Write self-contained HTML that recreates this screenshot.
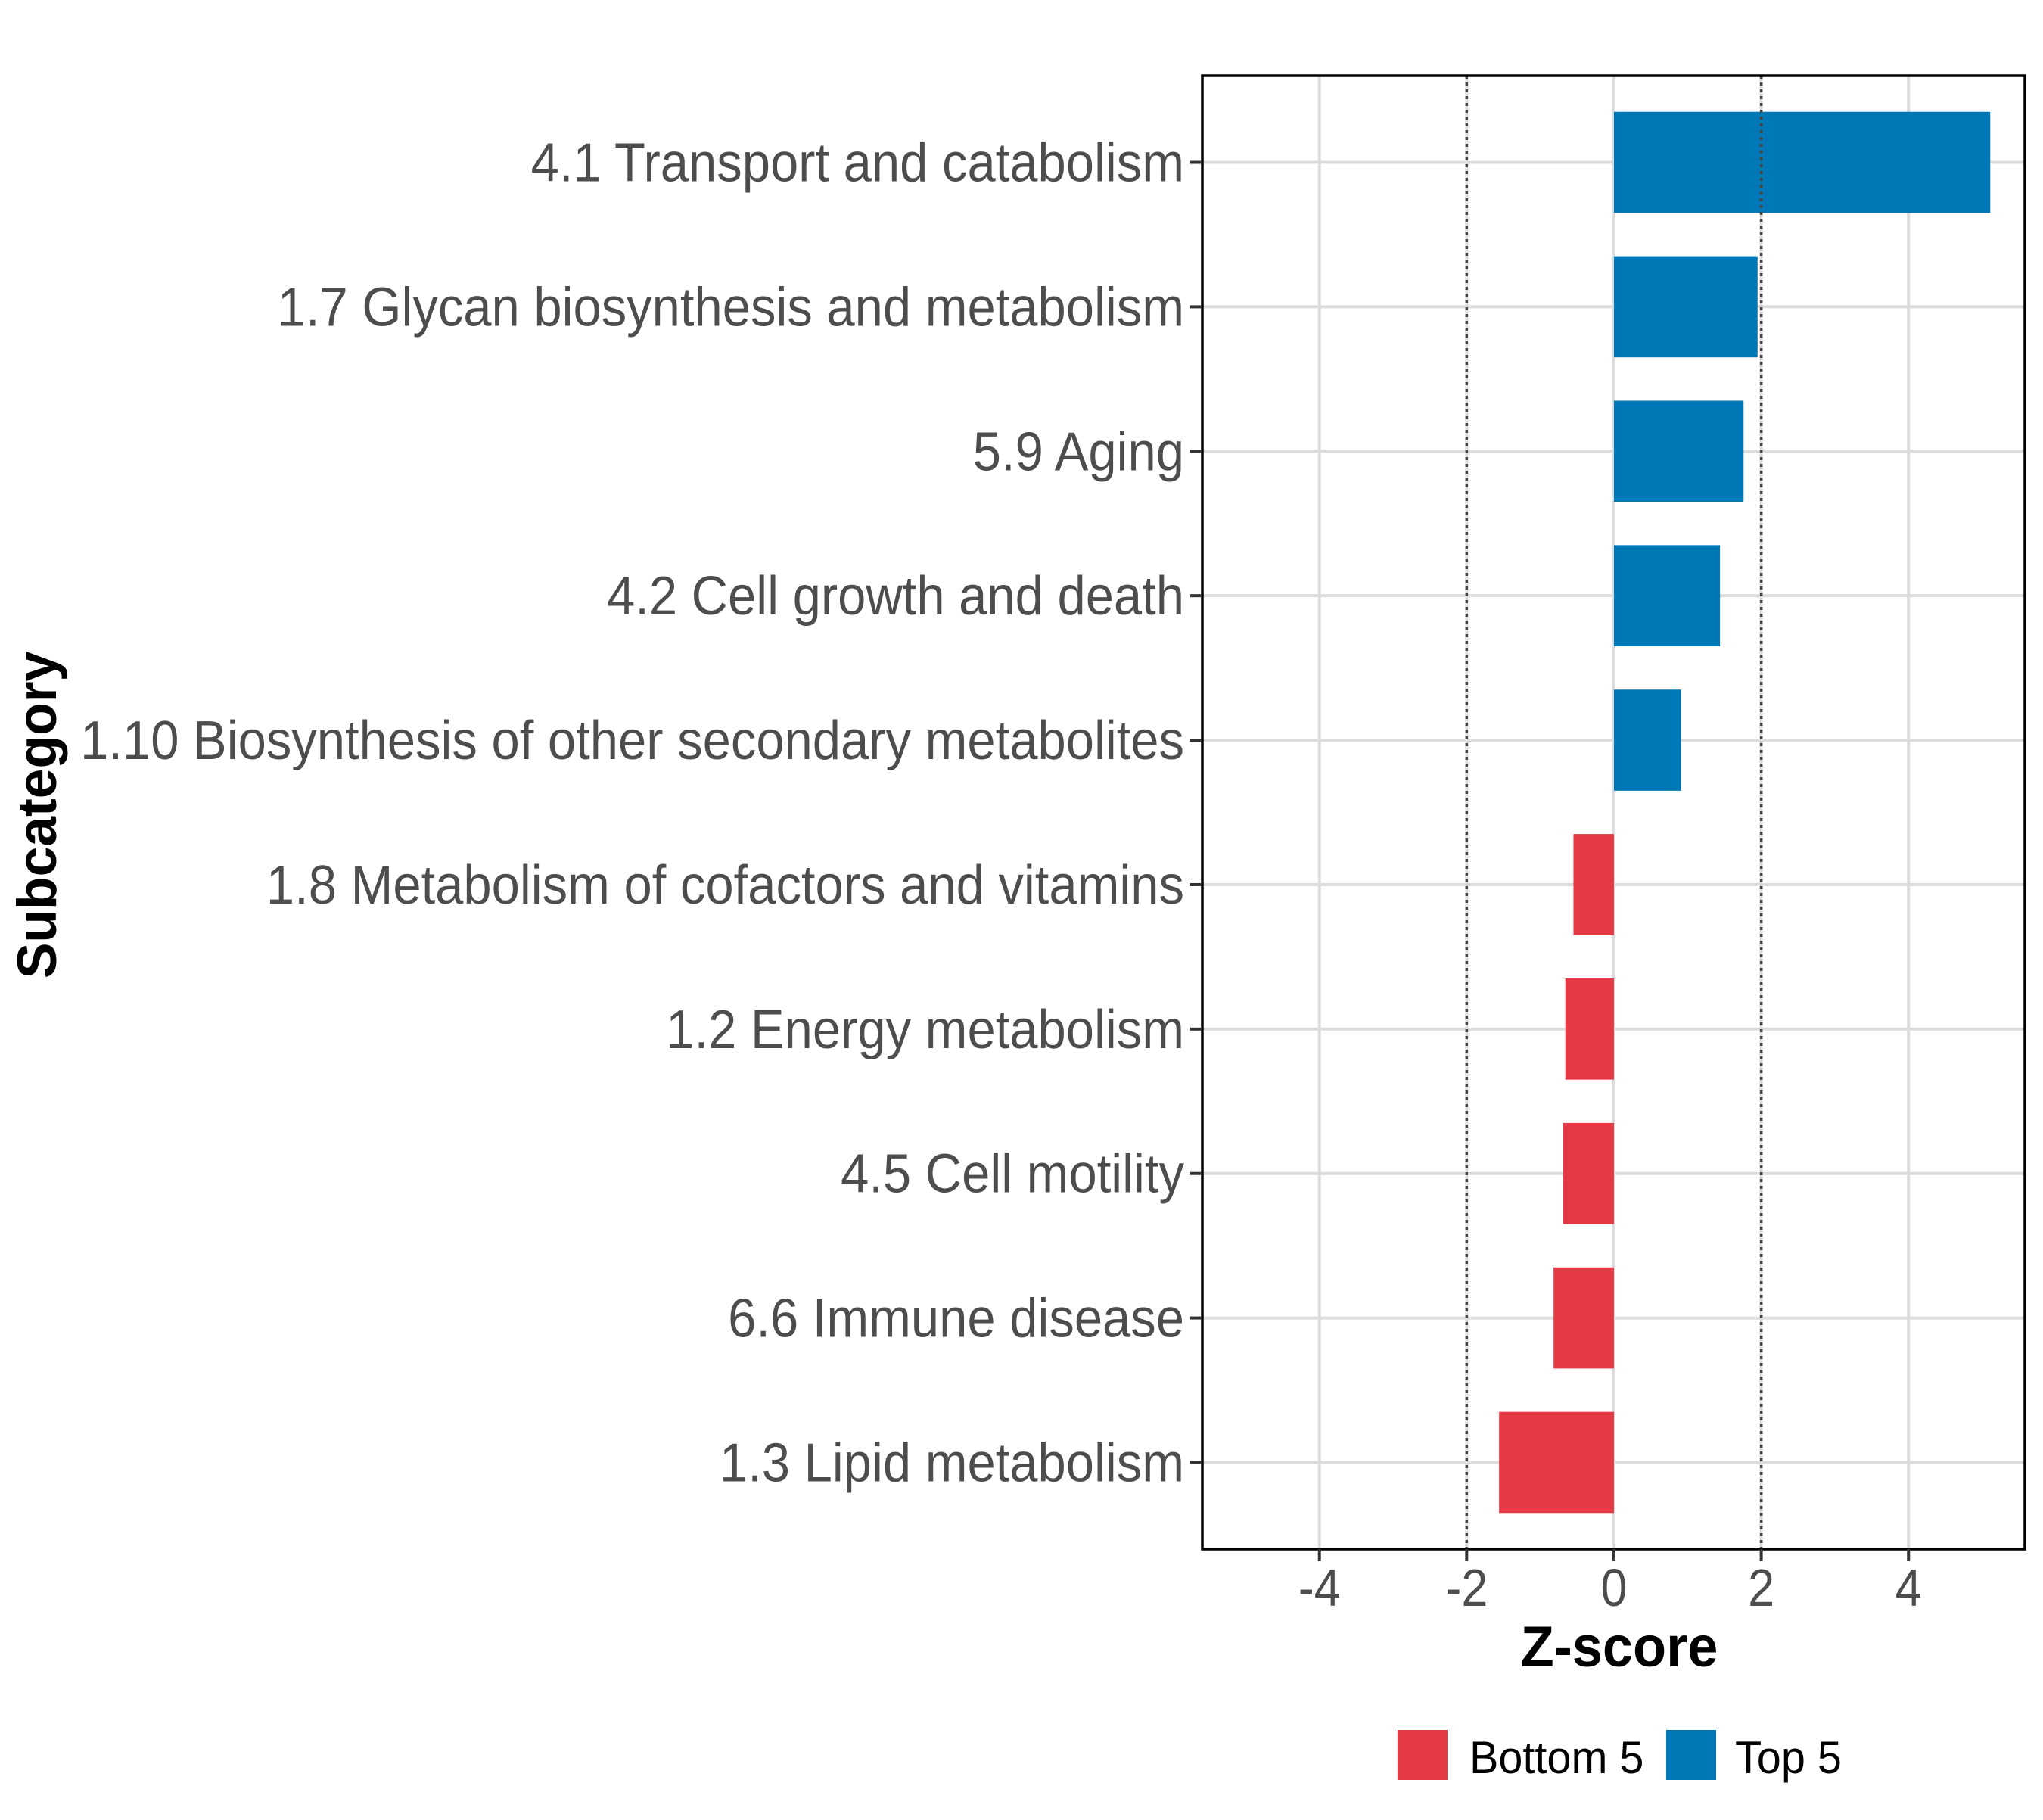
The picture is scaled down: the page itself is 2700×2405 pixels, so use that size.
<!DOCTYPE html>
<html><head><meta charset="utf-8"><style>
html,body{margin:0;padding:0;background:#fff;}
svg text{font-family:"Liberation Sans",sans-serif;}
</style></head><body>
<svg id="chart" width="2700" height="2400" viewBox="0 0 2700 2400" xmlns="http://www.w3.org/2000/svg">
<rect x="0" y="0" width="2700" height="2400" fill="#fff"/>
<g id="grid"></g>
<g id="bars"></g>
<g id="axes"></g>
<text x="0" y="0" transform="translate(74,1077) rotate(-90) scale(1.02,1.05)" text-anchor="middle" font-size="70" font-weight="bold" fill="#000">Subcategory</text>
<text x="0" y="0" transform="translate(2140,2202) scale(0.95,1)" text-anchor="middle" font-size="76" font-weight="bold" fill="#000">Z-score</text>
<g>
<rect x="1847" y="2286" width="66" height="66" fill="#E63946"/>
<text x="0" y="0" transform="translate(1942,2343) scale(0.96,1)" font-size="60" fill="#000">Bottom 5</text>
<rect x="2202" y="2286" width="66" height="66" fill="#0077B6"/>
<text x="0" y="0" transform="translate(2293,2343) scale(0.96,1)" font-size="60" fill="#000">Top 5</text>
</g>
</svg>
<script>
const categories = ["4.1 Transport and catabolism","1.7 Glycan biosynthesis and metabolism","5.9 Aging","4.2 Cell growth and death","1.10 Biosynthesis of other secondary metabolites","1.8 Metabolism of cofactors and vitamins","1.2 Energy metabolism","4.5 Cell motility","6.6 Immune disease","1.3 Lipid metabolism"];
const zscores = [5.11, 1.95, 1.76, 1.44, 0.91, -0.55, -0.66, -0.69, -0.82, -1.56];
const groups = ["Top 5","Top 5","Top 5","Top 5","Top 5","Bottom 5","Bottom 5","Bottom 5","Bottom 5","Bottom 5"];
const xTicks = [-4, -2, 0, 2, 4];
const xTickLabels = ["-4","-2","0","2","4"];
const refLines = [-2, 2];

const NS = "http://www.w3.org/2000/svg";
const L = 1589, R = 2676, T = 100, B = 2047;
const xMin = -5.59, xMax = 5.58;
function xs(v){ return L + (v - xMin) / (xMax - xMin) * (R - L); }
const step = (B - T) / (categories.length - 1 + 1.2);
function ys(i){ return T + step * (0.6 + i); }
function mk(tag, attrs, parent){ const e = document.createElementNS(NS, tag); for (const k in attrs) e.setAttribute(k, attrs[k]); parent.appendChild(e); return e; }
const grid = document.getElementById('grid'), bars = document.getElementById('bars'), axes = document.getElementById('axes');
xTicks.forEach((t, i) => {
  const g = mk('line', {x1: xs(t), x2: xs(t), y1: T, y2: B, stroke: '#dcdcdc', 'stroke-width': 4}, grid);
  
  
});
categories.forEach((c, i) => {
  const g = mk('line', {x1: L, x2: R, y1: ys(i), y2: ys(i), stroke: '#dcdcdc', 'stroke-width': 4}, grid);
  
  
});
const bh = step * 0.7;
zscores.forEach((v, i) => {
  const x0 = Math.min(xs(0), xs(v)), w = Math.abs(xs(v) - xs(0));
  const r = mk('rect', {x: x0, y: ys(i) - bh / 2, width: w, height: bh, fill: groups[i] === 'Top 5' ? '#0077B6' : '#E63946'}, bars);
  
  
});
refLines.forEach(v => {
  const l = mk('line', {x1: xs(v), x2: xs(v), y1: T, y2: B, stroke: '#444', 'stroke-width': 3.5, 'stroke-dasharray': '4 5'}, bars);
  
  
});
const frame = mk('rect', {x: L, y: T, width: R - L, height: B - T, fill: 'none', stroke: '#000', 'stroke-width': 3.5}, axes);


categories.forEach((c, i) => {
  const tk = mk('line', {x1: L - 16, x2: L, y1: ys(i), y2: ys(i), stroke: '#333', 'stroke-width': 4}, axes);
  
  
  const t = mk('text', {x: 0, y: 0, transform: 'translate(' + (L - 24) + ',' + (ys(i) + 25) + ') scale(0.93,1)', 'text-anchor': 'end', 'font-size': 72, fill: '#4d4d4d'}, axes);
  t.textContent = c;
  
  
});
xTicks.forEach((v, i) => {
  const tk = mk('line', {x1: xs(v), x2: xs(v), y1: B, y2: B + 16, stroke: '#333', 'stroke-width': 4}, axes);
  
  
  const t = mk('text', {x: 0, y: 0, transform: 'translate(' + xs(v) + ',2122) scale(0.9,1)', 'text-anchor': 'middle', 'font-size': 70, fill: '#4d4d4d'}, axes);
  t.textContent = xTickLabels[i];
  
  
});
</script>
</body></html>
